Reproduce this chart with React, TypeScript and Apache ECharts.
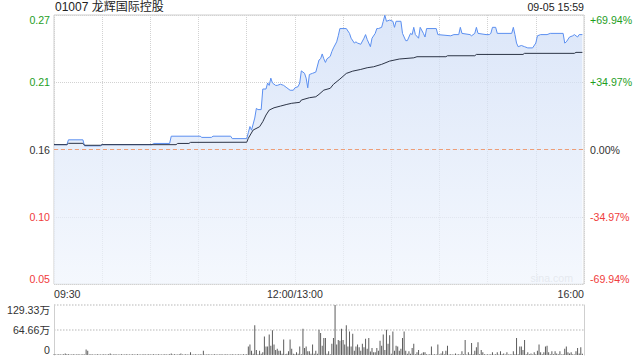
import React, { useEffect, useRef } from "react";
import * as echarts from "echarts";

const titleText = "01007 龙辉国际控股";
const stampText = "09-05 15:59";
const watermarkText = "sina.com";
const prevClose = 0.159;
const maxPct = 69.94;

const timeTickMinutes = [0, 150, 330];
const timeTickLabels = ["09:30", "12:00/13:00", "16:00"];
const priceTickLabels = ["0.05", "0.10", "0.16", "0.21", "0.27"];
const pctTickLabels = ["-69.94%", "-34.97%", "0.00%", "+34.97%", "+69.94%"];
const volTickLabels = ["0", "64.66万", "129.33万"];
const volMax = 129.33;

// minute index (0 = 09:30, 150 = 12:00/13:00, 330 = 16:00) and price
const priceMinutes = [
  0, 8, 9, 18, 19, 29, 30, 61, 62, 72, 73, 91, 92, 98, 99, 110, 111, 120,
  121, 122, 123, 125, 126, 127, 129, 130, 132, 133, 134, 135, 136, 138, 139, 141, 143, 145, 147, 149,
  150, 152, 153, 154, 156, 157, 158, 159, 161, 163, 165, 166, 167, 168, 169, 170, 172, 173, 174, 176, 177,
  178, 182, 184, 185, 187, 188, 189, 191, 193, 194, 195, 197, 198, 200, 201, 202, 204, 205, 206, 207, 209,
  211, 212, 213, 216, 217, 219, 220, 221, 222, 223, 224, 225, 227, 228, 230, 231, 232, 238, 239, 247, 249,
  252, 253, 254, 259, 260, 262, 263, 264, 269, 271, 272, 273, 275, 276, 285, 286, 287, 288, 289, 291, 293,
  295, 298, 300, 301, 303, 307, 309, 317, 318, 319, 321, 323, 324, 326, 327, 329,
];
const priceValues = [
  0.163, 0.163, 0.167, 0.167, 0.162, 0.162, 0.163, 0.163, 0.164, 0.164, 0.17, 0.17, 0.169, 0.169, 0.17, 0.17, 0.168, 0.168,
  0.173, 0.178, 0.175, 0.185, 0.193, 0.192, 0.192, 0.209, 0.209, 0.214, 0.212, 0.218, 0.214, 0.212, 0.212, 0.213, 0.212, 0.21, 0.208, 0.208,
  0.21, 0.211, 0.214, 0.224, 0.222, 0.218, 0.21, 0.221, 0.222, 0.223, 0.233, 0.234, 0.238, 0.234, 0.231, 0.234, 0.236, 0.24, 0.243, 0.248, 0.253,
  0.259, 0.259, 0.255, 0.251, 0.247, 0.248, 0.247, 0.246, 0.251, 0.254, 0.25, 0.244, 0.251, 0.255, 0.259, 0.259, 0.26, 0.265, 0.27, 0.265, 0.266,
  0.265, 0.26, 0.265, 0.265, 0.255, 0.249, 0.249, 0.252, 0.255, 0.254, 0.26, 0.254, 0.251, 0.26, 0.255, 0.252, 0.259, 0.259, 0.254, 0.253, 0.254,
  0.254, 0.26, 0.255, 0.254, 0.253, 0.255, 0.26, 0.255, 0.254, 0.254, 0.255, 0.26, 0.26, 0.255, 0.255, 0.26, 0.254, 0.247, 0.244, 0.245, 0.244,
  0.243, 0.243, 0.247, 0.253, 0.254, 0.254, 0.255, 0.255, 0.247, 0.248, 0.252, 0.253, 0.254, 0.252, 0.254, 0.254,
];

const avgMinutes = [
  0, 8, 9, 18, 19, 29, 30, 76, 77, 84, 85, 120, 121, 124, 128, 130, 132, 134, 137, 141, 145, 148, 153, 154,
  159, 163, 165, 168, 172, 174, 178, 182, 186, 191, 195, 199, 204, 209, 215, 224, 226, 244, 245, 262, 263,
  292, 293, 324, 325, 329,
];
const avgValues = [
  0.163, 0.163, 0.1641, 0.1641, 0.1625, 0.1625, 0.163, 0.163, 0.164, 0.164, 0.1649, 0.165, 0.1683, 0.1751, 0.1778,
  0.182, 0.1875, 0.1916, 0.1935, 0.1949, 0.1963, 0.1972, 0.198, 0.1999, 0.2018, 0.2026, 0.2046, 0.2081, 0.2096,
  0.2129, 0.2172, 0.2219, 0.2238, 0.2252, 0.2266, 0.2274, 0.2294, 0.2321, 0.2338, 0.2348, 0.2357, 0.2357, 0.2365,
  0.2365, 0.2376, 0.2376, 0.2385, 0.2385, 0.2393, 0.2393,
];

// volume per minute (万), minutes 0..329
const volumes = [
  2, 1, 1, 2, 1, 1, 2, 4, 2, 2, 1, 1, 2, 1, 1, 2, 1, 1, 2, 1, 14, 11, 1, 2, 1, 1, 1, 2, 1, 1,
  1, 2, 1, 1, 2, 4, 1, 1, 2, 1, 1, 1, 2, 1, 1, 2, 1, 1, 1, 2, 1, 1, 2, 1, 1, 1, 2, 1, 1, 2,
  1, 1, 2, 1, 1, 2, 1, 1, 1, 2, 1, 1, 2, 4, 1, 2, 1, 1, 2, 4, 1, 1, 2, 1, 1, 7, 1, 1, 2, 1,
  1, 2, 1, 11, 1, 1, 2, 1, 1, 1, 2, 1, 1, 1, 2, 1, 1, 2, 1, 1, 1, 2, 1, 1, 1, 2, 1, 1, 2, 1,
  2, 22, 27, 11, 3, 77, 13, 2, 11, 3, 7, 48, 22, 22, 53, 24, 64, 27, 13, 16, 11, 11, 3, 40, 2, 3, 10, 40, 16, 3,
  2, 7, 3, 22, 2, 68, 18, 22, 10, 10, 3, 27, 3, 11, 3, 65, 57, 24, 44, 44, 3, 10, 2, 29, 44, 129.33, 27, 39, 37, 68,
  39, 27, 77, 22, 61, 22, 55, 11, 22, 27, 20, 11, 29, 20, 42, 16, 44, 9, 18, 7, 7, 18, 11, 37, 24, 53, 13, 65, 29, 51,
  3, 61, 11, 24, 22, 11, 16, 44, 61, 11, 3, 10, 3, 18, 29, 2, 7, 13, 2, 4, 7, 7, 2, 1, 2, 22, 1, 2, 1, 27,
  1, 4, 10, 2, 11, 24, 1, 2, 1, 1, 4, 1, 2, 1, 10, 2, 39, 1, 7, 2, 31, 2, 11, 20, 33, 2, 13, 7, 2, 1,
  2, 1, 2, 7, 1, 2, 7, 1, 10, 2, 4, 1, 7, 1, 2, 1, 10, 2, 44, 2, 22, 22, 13, 39, 2, 7, 2, 4, 1, 7,
  2, 11, 27, 7, 2, 7, 22, 24, 7, 2, 10, 2, 10, 4, 2, 10, 1, 2, 16, 22, 7, 4, 7, 2, 1, 10, 18, 4, 20, 3,
];

const FONT = "'Liberation Sans', Arial, 'Noto Sans CJK SC', sans-serif";
const GREEN = "#1e9e1e";
const RED = "#f03c3c";
const DARK = "#333333";

const toAxis = (p: number) => ((p / prevClose - 1) * 100) / (maxPct / 2);

export default function App() {
  const ref = useRef<HTMLDivElement>(null);

  useEffect(() => {
    if (!ref.current) return;
    const chart = echarts.init(ref.current, undefined, { renderer: "svg" });

    const labelColor = (v: any) => {
      const n = Number(v);
      return n > 0.001 ? GREEN : n < -0.001 ? RED : DARK;
    };

    const option: any = {
      animation: false,
      textStyle: { fontFamily: FONT },
      grid: [
        { left: 54, right: 56, top: 15, height: 269, show: true, borderColor: "#cfcfcf", borderWidth: 1, backgroundColor: "transparent" },
        { left: 54, right: 56, top: 305, height: 50 },
      ],
      xAxis: [
        {
          gridIndex: 0,
          type: "value",
          min: 0,
          max: 330,
          interval: 30,
          axisLine: { show: false },
          axisTick: { show: false },
          axisLabel: {
            show: true,
            fontSize: 10.6,
            color: DARK,
            fontFamily: FONT,
            margin: 5,
            showMinLabel: true,
            showMaxLabel: true,
            alignMinLabel: "left",
            alignMaxLabel: "right",
            hideOverlap: false,
            formatter: (v: number) => {
              const k = timeTickMinutes.indexOf(Math.round(v));
              return k >= 0 ? timeTickLabels[k] : "";
            },
          },
          splitLine: { show: true, lineStyle: { color: "#d2d2d2", type: "dotted", width: 1 } },
        },
        {
          gridIndex: 1,
          type: "value",
          min: 0,
          max: 330,
          interval: 30,
          axisLine: { show: false },
          axisTick: { show: false },
          axisLabel: { show: false },
          splitLine: { show: false },
        },
      ],
      yAxis: [
        {
          gridIndex: 0,
          type: "value",
          position: "left",
          min: -2,
          max: 2,
          interval: 1,
          axisLine: { show: false },
          axisTick: { show: false },
          axisLabel: {
            fontSize: 10.6,
            fontFamily: FONT,
            margin: 4,
            color: labelColor,
            verticalAlignMinLabel: "bottom",
            verticalAlignMaxLabel: "top",
            formatter: (v: number) => priceTickLabels[Math.round(v) + 2] ?? "",
          },
          splitLine: { show: true, lineStyle: { color: "#d2d2d2", type: "dotted", width: 1 } },
        },
        {
          gridIndex: 0,
          type: "value",
          position: "right",
          min: -2,
          max: 2,
          interval: 1,
          axisLine: { show: false },
          axisTick: { show: false },
          axisLabel: {
            fontSize: 10.6,
            fontFamily: FONT,
            margin: 6,
            color: labelColor,
            verticalAlignMinLabel: "bottom",
            verticalAlignMaxLabel: "top",
            formatter: (v: number) => pctTickLabels[Math.round(v) + 2] ?? "",
          },
          splitLine: { show: false },
        },
        {
          gridIndex: 1,
          type: "value",
          position: "left",
          min: 0,
          max: volMax,
          interval: volMax / 2,
          axisLine: { show: true, lineStyle: { color: "#cfcfcf", width: 1 } },
          axisTick: { show: false },
          axisLabel: {
            fontSize: 10.6,
            fontFamily: FONT,
            margin: 4,
            color: DARK,
            verticalAlignMinLabel: "bottom",
            verticalAlignMaxLabel: "top",
            formatter: (v: number) => volTickLabels[Math.round(v / (volMax / 2))] ?? "",
          },
          splitLine: { show: true, showMinLine: false, lineStyle: { color: "#cfcfcf", type: "dotted", width: 1.5 } },
        },
        {
          gridIndex: 1,
          type: "value",
          position: "right",
          min: 0,
          max: volMax,
          interval: volMax / 2,
          axisLine: { show: true, lineStyle: { color: "#cfcfcf", width: 1 } },
          axisTick: { show: false },
          axisLabel: { show: false },
          splitLine: { show: false },
        },
      ],
      series: [
        {
          name: "price",
          type: "line",
          xAxisIndex: 0,
          yAxisIndex: 0,
          showSymbol: false,
          symbol: "none",
          lineStyle: { color: "#5b8ff0", width: 1 },
          areaStyle: {
            origin: "start",
            color: new echarts.graphic.LinearGradient(0, 0, 0, 1, [
              { offset: 0, color: "#cddcf6" },
              { offset: 1, color: "#f0f5fd" },
            ]),
          },
          data: priceMinutes.map((m, k) => [m, toAxis(priceValues[k])]),
          markLine: {
            silent: true,
            symbol: "none",
            label: { show: false },
            lineStyle: { color: "#ee9e78", type: [4, 3], width: 1 },
            data: [{ yAxis: 0 }],
          },
          z: 2,
        },
        {
          name: "avg",
          type: "line",
          xAxisIndex: 0,
          yAxisIndex: 0,
          showSymbol: false,
          symbol: "none",
          lineStyle: { color: "#2c3446", width: 1 },
          data: avgMinutes.map((m, k) => [m, toAxis(avgValues[k])]),
          z: 3,
        },
        {
          name: "volume",
          type: "bar",
          xAxisIndex: 1,
          yAxisIndex: 2,
          barWidth: 1,
          itemStyle: { color: "#5c5c5c" },
          data: volumes.map((v, i) => [i, v]),
        },
      ],
      graphic: [
        {
          type: "text",
          left: 55,
          top: 1,
          style: { text: titleText, fontSize: 12, fill: "#222", fontFamily: FONT },
        },
        {
          type: "text",
          right: 56,
          top: 2,
          style: { text: stampText, fontSize: 10.6, fill: "#222", fontFamily: FONT },
        },
        {
          type: "text",
          right: 67,
          top: 273,
          style: { text: watermarkText, fontSize: 10.6, fill: "#cccccc", fontFamily: FONT },
        },
      ],
    };

    chart.setOption(option);
    return () => chart.dispose();
  }, []);

  return (
    <div
      ref={ref}
      style={{ position: "fixed", left: 0, top: 0, width: 640, height: 360, background: "#fff" }}
    />
  );
}
